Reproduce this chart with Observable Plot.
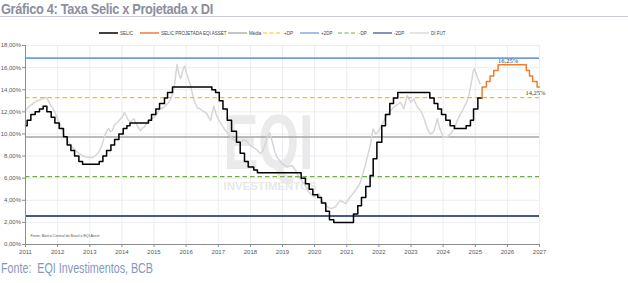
<!DOCTYPE html>
<html>
<head>
<meta charset="utf-8">
<script src="https://cdn.jsdelivr.net/npm/d3@7"></script>
<script src="https://cdn.jsdelivr.net/npm/@observablehq/plot@0.6"></script>
<style>
  html, body { margin: 0; padding: 0; background: #fff; }
  #page { position: relative; width: 628px; height: 283px; overflow: hidden; font-family: "Liberation Sans", Arial, sans-serif; }
  #title { position: absolute; left: 1px; top: 0px; font-size: 15.5px; line-height: 17px; font-weight: bold; color: #8c8ea0; white-space: nowrap; transform-origin: 0 0; letter-spacing: -0.4px; }
  #rule { position: absolute; left: 0; top: 16px; width: 628px; height: 1px; background: #c9cad3; }
  #legend { position: absolute; left: 0; top: 29px; width: 628px; height: 8px; }
  .lg { position: absolute; top: 0; height: 8px; display: flex; align-items: center; white-space: nowrap; font-size: 4.5px; color: #404040; }
  .lg svg { margin-right: 2px; }
  #chart { position: absolute; left: 0; top: 40px; }
  #footer { position: absolute; left: 1px; top: 260px; font-size: 14.5px; line-height: 16px; color: #8497c0; white-space: nowrap; transform-origin: 0 0; }
</style>
</head>
<body>
<div id="page">
  <div id="title">Gráfico 4: Taxa Selic x Projetada x DI</div>
  <div id="rule"></div>
  <div id="legend"></div>
  <div id="chart"></div>
  <div id="footer">Fonte:&nbsp; EQI Investimentos, BCB</div>
</div>
<script>
// ---------------- DATA ----------------
const selicDates = ["2011-01-01","2011-01-20","2011-03-03","2011-04-21","2011-06-09","2011-07-21","2011-09-01","2011-10-20","2011-12-01",
  "2012-01-19","2012-03-08","2012-04-19","2012-05-31","2012-07-12","2012-08-30","2012-10-11",
  "2013-04-18","2013-05-30","2013-07-11","2013-08-29","2013-10-10","2013-11-28",
  "2014-01-16","2014-02-27","2014-04-03","2014-10-30","2014-12-04",
  "2015-01-22","2015-03-05","2015-04-30","2015-06-04","2015-07-30",
  "2016-10-20","2016-12-01",
  "2017-01-12","2017-02-23","2017-04-13","2017-06-01","2017-07-27","2017-09-07","2017-10-26","2017-12-07",
  "2018-02-08","2018-03-22",
  "2019-08-01","2019-09-19","2019-10-31","2019-12-12",
  "2020-02-06","2020-03-19","2020-05-07","2020-06-18","2020-08-06",
  "2021-03-18","2021-05-06","2021-06-17","2021-08-05","2021-09-23","2021-10-28","2021-12-09",
  "2022-02-03","2022-03-17","2022-05-05","2022-06-16","2022-08-04",
  "2023-08-03","2023-09-21","2023-11-02","2023-12-14",
  "2024-02-01","2024-03-21","2024-05-09","2024-09-19","2024-11-07","2024-12-12",
  "2025-01-30","2025-03-19"];
const selicRates = [10.75,11.25,11.75,12.00,12.25,12.50,12.00,11.50,11.00,
  10.50,9.75,9.00,8.50,8.00,7.50,7.25,
  7.50,8.00,8.50,9.00,9.50,10.00,
  10.50,10.75,11.00,11.25,11.75,
  12.25,12.75,13.25,13.75,14.25,
  14.00,13.75,
  13.00,12.25,11.25,10.25,9.25,8.25,7.50,7.00,
  6.75,6.50,
  6.00,5.50,5.00,4.50,
  4.25,3.75,3.00,2.25,2.00,
  2.75,3.50,4.25,5.25,6.25,7.75,9.25,
  10.75,11.75,12.75,13.25,13.75,
  13.25,12.75,12.25,11.75,
  11.25,10.75,10.50,10.75,11.25,12.25,
  13.25,13.25];

const projDates = ["2025-03-19","2025-03-19","2025-05-07","2025-06-18","2025-07-30","2025-09-17","2026-08-04","2026-09-09","2026-10-16","2026-12-05","2026-12-31"];
const projRates = [13.25,14.25,14.75,15.25,15.75,16.25,15.75,15.25,14.75,14.25,14.25];

const diYears = [2011.00,2011.08,2011.16,2011.26,2011.36,2011.47,2011.57,2011.62,2011.67,2011.73,2011.78,2011.84,2011.88,2011.93,2011.98,
  2012.04,2012.09,2012.19,2012.30,2012.38,2012.45,2012.53,2012.61,2012.69,2012.76,2012.84,2012.92,
  2013.00,2013.07,2013.13,2013.18,2013.28,2013.34,2013.39,2013.44,2013.49,2013.54,2013.59,2013.64,2013.70,2013.75,2013.80,2013.88,2013.96,
  2014.03,2014.08,2014.14,2014.17,2014.22,2014.27,2014.32,2014.38,2014.43,2014.48,2014.53,2014.58,2014.63,2014.69,2014.76,2014.84,2014.92,
  2015.00,2015.08,2015.15,2015.23,2015.31,2015.36,2015.42,2015.47,2015.52,2015.58,2015.63,2015.67,2015.72,2015.75,2015.79,2015.83,2015.87,2015.91,2015.96,2015.99,
  2016.04,2016.09,2016.14,2016.19,2016.24,2016.30,2016.35,2016.42,2016.50,2016.57,2016.65,2016.70,2016.76,2016.81,2016.86,2016.92,2016.97,
  2017.05,2017.12,2017.20,2017.28,2017.36,2017.44,2017.52,2017.59,2017.69,2017.77,2017.85,2017.92,
  2018.00,2018.08,2018.16,2018.24,2018.31,2018.39,2018.47,2018.52,2018.60,2018.63,2018.67,2018.71,2018.75,2018.79,2018.83,2018.91,2018.99,
  2019.07,2019.15,2019.22,2019.30,2019.36,2019.41,2019.46,2019.51,2019.59,2019.67,2019.75,2019.82,2019.90,2019.98,
  2020.05,2020.13,2020.18,2020.23,2020.28,2020.34,2020.41,2020.49,2020.57,2020.65,2020.72,2020.80,2020.88,2020.96,
  2021.03,2021.11,2021.19,2021.27,2021.34,2021.42,2021.48,2021.53,2021.58,2021.64,2021.69,2021.74,2021.78,2021.82,2021.86,2021.90,2021.95,
  2022.00,2022.05,2022.10,2022.16,2022.21,2022.28,2022.36,2022.44,2022.52,2022.60,2022.67,2022.72,2022.78,2022.83,2022.88,2022.93,2022.99,
  2023.04,2023.09,2023.14,2023.20,2023.25,2023.30,2023.35,2023.41,2023.46,2023.51,2023.56,2023.62,2023.67,2023.72,2023.77,2023.82,2023.86,2023.90,2023.95,
  2024.00,2024.06,2024.13,2024.18,2024.23,2024.28,2024.33,2024.39,2024.44,2024.49,2024.54,2024.60,2024.65,2024.70,2024.75,2024.80,2024.85,2024.90,2024.94,2024.97,
  2025.01,2025.05,2025.08,2025.12,2025.15];
const diRates = [12.1,12.4,12.6,12.8,13.0,13.1,13.27,13.3,13.2,12.9,12.6,12.4,12.15,11.9,11.5,
  11.1,10.8,10.0,9.4,9.1,8.8,8.6,8.35,8.2,8.05,7.95,7.9,
  7.9,7.85,7.95,8.05,8.35,8.7,9.1,9.6,10.0,10.3,10.46,10.2,10.3,10.7,10.9,11.1,11.37,
  11.6,11.95,11.6,11.37,11.2,11.07,11.25,11.37,11.0,10.76,10.5,10.3,10.5,10.61,10.9,11.22,11.4,
  11.52,11.8,12.12,12.3,12.42,12.6,12.72,12.9,13.18,13.6,14.23,15.2,16.3,15.8,15.3,15.0,15.4,15.9,16.15,15.7,
  15.29,14.8,14.38,13.7,13.1,12.7,12.35,12.3,12.12,12.0,11.82,11.5,11.22,11.9,12.5,11.9,11.52,
  11.1,10.76,10.4,10.16,9.85,9.56,9.45,9.41,9.26,9.45,9.41,9.2,
  8.95,8.8,8.65,8.45,8.2,8.5,9.1,9.7,10.1,9.8,9.4,9.0,8.5,8.2,7.9,7.6,7.3,
  7.15,7.0,7.1,7.15,6.9,6.7,6.4,6.1,5.8,5.5,5.1,4.75,4.5,4.3,
  4.45,4.6,4.3,4.0,3.8,3.55,3.4,3.25,3.3,3.4,3.7,4.0,3.85,3.7,
  4.0,4.3,4.6,4.9,5.2,5.6,6.2,6.7,7.2,7.9,8.5,9.1,9.8,10.46,10.2,10.0,10.1,
  10.3,10.6,10.9,11.2,11.5,11.8,12.1,12.35,12.57,12.7,12.87,12.6,12.27,12.9,13.48,13.2,12.87,
  13.0,13.18,12.8,12.42,12.25,12.12,11.8,11.37,10.9,10.46,10.2,10.0,10.1,10.3,10.8,11.37,10.9,10.46,10.1,
  9.71,9.7,9.77,9.85,10.0,10.2,10.46,10.8,11.22,11.5,11.82,12.1,12.42,12.7,13.02,13.5,14.23,15.0,15.74,15.9,
  15.59,15.3,15.0,14.75,14.53];

const refNames  = ["Média", "+DP", "+2DP", "-DP", "-2DP"];
const refValues = [9.72, 13.28, 16.86, 6.14, 2.58];

const yTicks = [0, 2, 4, 6, 8, 10, 12, 14, 16, 18];
const xYears = [2011, 2012, 2013, 2014, 2015, 2016, 2017, 2018, 2019, 2020, 2021, 2022, 2023, 2024, 2025, 2026, 2027];

const legendLabels = ["SELIC", "SELIC PROJETADA EQI ASSET", "Média", "+DP", "+2DP", "-DP", "-2DP", "DI FUT"];
const footnote = "Fonte: Banco Central do Brasil e EQI Asset";

// ---------------- STYLE ----------------
const C = {
  selic: "#000000", proj: "#ED7D31", media: "#A6A6A6", plus1: "#FFC000", plus2: "#6FA0D8",
  minus1: "#70AD47", minus2: "#44598F", di: "#D6D6D6", grid: "#E4E8EF", axis: "#8C8C8C"
};
const refStyle = {
  "Média": {stroke: C.media, dash: null, w: 1.5},
  "+DP":   {stroke: C.plus1, dash: "4.5,3", w: 1.2},
  "+2DP":  {stroke: C.plus2, dash: null, w: 1.6},
  "-DP":   {stroke: C.minus1, dash: "4.5,3", w: 1.2},
  "-2DP":  {stroke: C.minus2, dash: null, w: 1.8}
};
const legendStyle = [
  {stroke: C.selic, dash: null, w: 1.5, left: 99},
  {stroke: C.proj, dash: null, w: 1.5, left: 140},
  {stroke: C.media, dash: null, w: 1.3, left: 228},
  {stroke: C.plus1, dash: "4,2.5", w: 1.2, left: 263},
  {stroke: C.plus2, dash: null, w: 1.3, left: 300},
  {stroke: C.minus1, dash: "4,2.5", w: 1.2, left: 338},
  {stroke: C.minus2, dash: null, w: 1.3, left: 373},
  {stroke: C.di, dash: null, w: 1.3, left: 410}
];

// ---------------- HELPERS ----------------
const parse = s => new Date(s + "T00:00:00Z");
function yd(y) {
  const yr = Math.floor(y);
  const a = Date.UTC(yr, 0, 1), b = Date.UTC(yr + 1, 0, 1);
  return new Date(a + (y - yr) * (b - a));
}
const selic = selicDates.map((d, i) => ({date: parse(d), v: selicRates[i]}));
const proj = projDates.map((d, i) => ({date: parse(d), v: projRates[i]}));
const di = diYears.map((y, i) => ({date: yd(y), v: diRates[i]}));
const refs = refNames.map((n, i) => ({name: n, v: refValues[i]}));
const yearDates = xYears.map(y => yd(y));
const pct = d => d.toFixed(2).replace(".", ",") + "%";

const projMax = proj.reduce((a, b) => (b.v > a.v ? b : a));
const projLast = proj[proj.length - 1];

// ---------------- LEGEND ----------------
const legend = document.getElementById("legend");
legendLabels.forEach((lab, i) => {
  const s = legendStyle[i];
  const div = document.createElement("div");
  div.className = "lg";
  div.style.left = s.left + "px";
  div.innerHTML = `<svg width="19" height="6"><line x1="0" x2="19" y1="3" y2="3" stroke="${s.stroke}" stroke-width="${s.w}" ${s.dash ? `stroke-dasharray="${s.dash}"` : ""}/></svg><span>${lab}</span>`;
  legend.appendChild(div);
});

// ---------------- CHART ----------------
const chart = Plot.plot({
  width: 628,
  height: 220,
  marginLeft: 25,
  marginRight: 89,
  marginTop: 5,
  marginBottom: 16,
  style: {fontFamily: "'Liberation Sans', Arial, sans-serif", fontSize: "6px", color: "#595959", background: "transparent", overflow: "visible"},
  x: {type: "utc", domain: [yd(2011), yd(2027)]},
  y: {domain: [0, 18]},
  marks: [
    Plot.gridX(yearDates, {stroke: C.grid, strokeOpacity: 1, strokeWidth: 0.8}),
    Plot.gridY(yTicks, {stroke: C.grid, strokeOpacity: 1, strokeWidth: 0.8}),
    Plot.text(["EQI"], {frameAnchor: "top-left", dx: 198, dy: 123, text: d => d, textAnchor: "start", lineAnchor: "bottom", fontSize: 77, fontWeight: "bold", fill: "#EAEAEA"}),
    Plot.text(["INVESTIMENTOS"], {frameAnchor: "top-left", dx: 198, dy: 144, text: d => d, textAnchor: "start", lineAnchor: "bottom", fontSize: 10.5, fontWeight: "bold", fill: "#E8E8E8"}),
    Plot.text([footnote], {frameAnchor: "bottom-left", dx: 5, dy: -8, text: d => d, textAnchor: "start", fontSize: 3.6, fill: "#555"}),
    Plot.ruleY(refs.filter(r => r.name === "Média"), {y: "v", stroke: refStyle["Média"].stroke, strokeWidth: refStyle["Média"].w}),
    Plot.line(di, {x: "date", y: "v", stroke: C.di, strokeWidth: 1.5}),
    ...refs.filter(r => r.name !== "Média").map(r => Plot.ruleY([r], {y: "v", stroke: refStyle[r.name].stroke, strokeWidth: refStyle[r.name].w, strokeDasharray: refStyle[r.name].dash})),
    Plot.line(selic, {x: "date", y: "v", curve: "step-after", stroke: C.selic, strokeWidth: 1.5}),
    Plot.line(proj, {x: "date", y: "v", curve: "step-after", stroke: C.proj, strokeWidth: 1.5}),
    Plot.text([projMax], {x: "date", y: "v", text: d => pct(d.v), textAnchor: "start", dy: -4, fontSize: 6.5, fontFamily: "'Liberation Serif', serif", fill: "#404040"}),
    Plot.text([projLast], {x: "date", y: "v", text: d => pct(d.v), textAnchor: "middle", dx: -4, dy: 6, fontSize: 6.5, fontFamily: "'Liberation Serif', serif", fill: "#404040"}),
    Plot.ruleX([yearDates[0]], {stroke: C.axis, strokeWidth: 1}),
    Plot.ruleY([0], {stroke: C.axis, strokeWidth: 1}),
    Plot.axisY(yTicks, {tickSize: 3, tickPadding: 1.5, tickFormat: pct, label: null, stroke: C.axis}),
    Plot.axisX(yearDates, {tickSize: 3, tickPadding: 2, tickFormat: d3.utcFormat("%Y"), label: null, stroke: C.axis})
  ]
});
document.getElementById("chart").appendChild(chart);

// condense watermark text to its width in the picture
d3.select(chart).selectAll("text").each(function () {
  const t = this.textContent;
  if (t === "EQI") { this.setAttribute("textLength", 90); this.setAttribute("lengthAdjust", "spacingAndGlyphs"); }
  if (t === "INVESTIMENTOS") { this.setAttribute("textLength", 93); this.setAttribute("lengthAdjust", "spacingAndGlyphs"); }
});

// fit title and footer widths
function fit(id, w) {
  const el = document.getElementById(id);
  const cur = el.getBoundingClientRect().width;
  el.style.transform = `scaleX(${w / cur})`;
}
fit("title", 212);
fit("footer", 152);
</script>
</body>
</html>
